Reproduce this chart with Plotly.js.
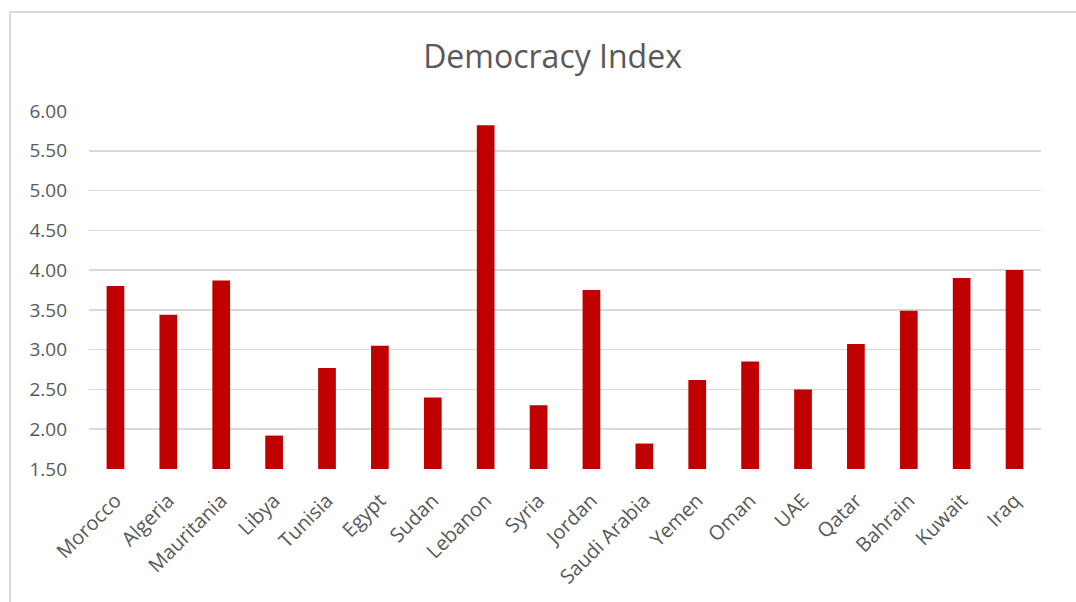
<!DOCTYPE html>
<html>
<head>
<meta charset="utf-8">
<script src="https://cdn.plot.ly/plotly-3.0.1.min.js"></script>
<style>
  html, body { margin: 0; padding: 0; background: #fff; overflow: hidden; }
  #frame { position: absolute; left: 9px; top: 11px; width: 1200px; height: 800px;
           border-left: 2px solid #d9d9d9; border-top: 2px solid #d9d9d9; pointer-events: none; }
  #chart { position: absolute; left: 0; top: 0; width: 1076px; height: 602px; }
</style>
</head>
<body>
<div id="chart"></div>
<div id="frame"></div>
<script>
// Democracy Index scores by country
const countries = ["Morocco", "Algeria", "Mauritania", "Libya", "Tunisia", "Egypt", "Sudan",
  "Lebanon", "Syria", "Jordan", "Saudi Arabia", "Yemen", "Oman", "UAE", "Qatar",
  "Bahrain", "Kuwait", "Iraq"];
const scores = [3.80, 3.44, 3.87, 1.92, 2.77, 3.05, 2.40, 5.82, 2.30, 3.75, 1.82, 2.62,
  2.85, 2.50, 3.07, 3.49, 3.90, 4.00];
const yTicks = [1.5, 2, 2.5, 3, 3.5, 4, 4.5, 5, 5.5, 6];
const axisFloor = 1.5;

const textColor = "#595959";
const fontFamily = "'Open Sans', 'Noto Sans', sans-serif";

// bars rise from the 1.50 axis floor
const trace = {
  type: "bar",
  x: countries,
  y: scores.map(v => v - axisFloor),
  base: axisFloor,
  customdata: scores,
  hovertemplate: "%{x}: %{customdata:.2f}<extra></extra>",
  marker: { color: "#c00000", line: { width: 0 } }
};

const layout = {
  width: 1076,
  height: 602,
  margin: { l: 89, r: 35, t: 111, b: 133 },
  paper_bgcolor: "rgba(0,0,0,0)",
  plot_bgcolor: "rgba(0,0,0,0)",
  bargap: 0.665,
  showlegend: false,
  title: {
    text: "Democracy Index",
    font: { family: fontFamily, size: 32, color: textColor },
    x: 0.5135, xref: "container", xanchor: "center",
    y: 0.906, yref: "container", yanchor: "middle"
  },
  xaxis: {
    type: "category",
    tickangle: -45,
    tickfont: { family: fontFamily, size: 20, color: textColor },
    showgrid: false,
    showline: false,
    zeroline: false,
    ticks: "",
    ticklabelstandoff: 15
  },
  yaxis: {
    range: [axisFloor, 6],
    tickvals: yTicks,
    ticktext: yTicks.map(v => v.toFixed(2)),
    tickfont: { family: fontFamily, size: 19, color: textColor },
    showgrid: true,
    gridcolor: "#d9d9d9",
    gridwidth: 1.5,
    zeroline: false,
    showline: false,
    ticks: "",
    ticklabelstandoff: 21
  }
};

Plotly.newPlot("chart", [trace], layout, { displayModeBar: false, staticPlot: true });
</script>
</body>
</html>
